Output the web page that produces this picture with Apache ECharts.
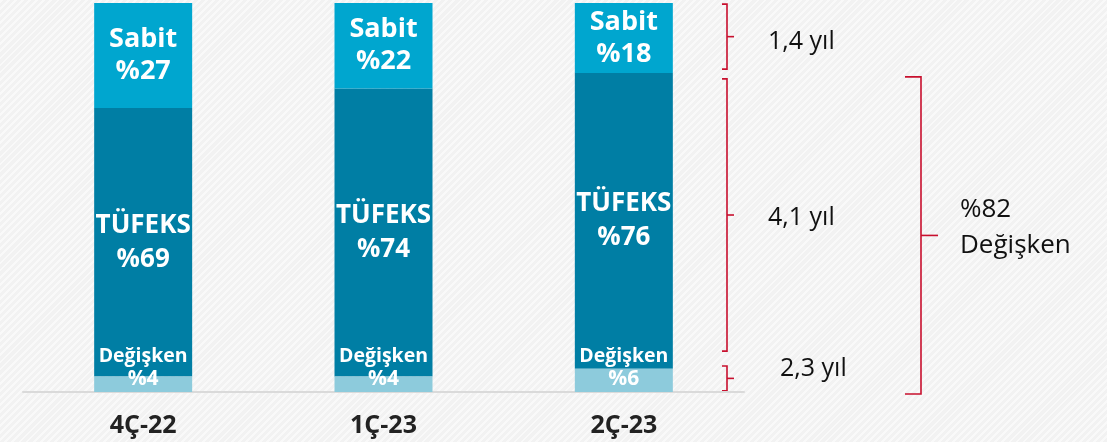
<!DOCTYPE html>
<html><head><meta charset="utf-8">
<script src="https://cdn.jsdelivr.net/npm/echarts@6/dist/echarts.min.js"></script>
<style>
html,body{margin:0;padding:0;}
#c{width:1107px;height:442px;background:repeating-linear-gradient(-45deg,#f2f2f2 0px,#f2f2f2 3px,#f9f9f9 3px,#f9f9f9 5px);}
</style>
</head><body><div id="c"></div>
<script>
const categories = ['4Ç-22', '1Ç-23', '2Ç-23'];
const degisken = [4, 4, 6];
const tufeks = [69, 74, 76];
const sabit = [27, 22, 18];
const bracketLabels = ['1,4 yıl', '4,1 yıl', '2,3 yıl'];
const bracketTop = [99.7, 80.5, 6.7];
const bracketBottom = [83, 10.5, 0.3];
const totalLabel = '%82\nDeğişken';
const totalTop = 81;
const totalBottom = -0.5;

const FONT = '"Open Sans", "Noto Sans", sans-serif';
const chart = echarts.init(document.getElementById('c'), null, {renderer: 'canvas'});

const option = {
  backgroundColor: 'transparent',
  animation: false,
  grid: {left: 23, right: 363, top: 3, bottom: 50},
  xAxis: {
    type: 'category', data: categories,
    axisLine: {show: true, lineStyle: {color: '#dadada', width: 2}},
    axisTick: {show: false},
    axisLabel: {fontFamily: FONT, fontSize: 25, fontWeight: 'bold', color: '#222', margin: 21}
  },
  yAxis: {type: 'value', min: 0, max: 100, show: false},
  series: [
    {
      name: 'Değişken', type: 'bar', stack: 'a', data: degisken, barWidth: 98, z: 4,
      itemStyle: {color: '#8dcbdc'},
      label: {show: true, position: 'insideBottom', distance: 1, color: '#fff', fontFamily: FONT,
        fontWeight: 'bold', fontSize: 19, lineHeight: 23,
        formatter: p => '{n|Değişken}\n{p|%' + p.value + '}',
        rich: {
          n: {fontFamily: FONT, fontWeight: 'bold', fontSize: 19.5, lineHeight: 23, color: '#fff'},
          p: {fontFamily: FONT, fontWeight: 'bold', fontSize: 21, lineHeight: 23, color: '#fff'}
        }}
    },
    {
      name: 'TÜFEKS', type: 'bar', stack: 'a', data: tufeks, barWidth: 98,
      itemStyle: {color: '#007ea4'},
      label: {show: true, position: 'inside', color: '#fff', fontFamily: FONT,
        fontWeight: 'bold', fontSize: 26, lineHeight: 34,
        formatter: p => 'TÜFEKS\n%' + p.value}
    },
    {
      name: 'Sabit', type: 'bar', stack: 'a', data: sabit, barWidth: 98,
      itemStyle: {color: '#00a6cf'},
      label: {show: true, position: 'inside', color: '#fff', fontFamily: FONT,
        fontWeight: 'bold', fontSize: 27, lineHeight: 32,
        formatter: p => 'Sabit\n%' + p.value}
    }
  ]
};
chart.setOption(option);

const RED = '#c8102e';
const yPix = v => chart.convertToPixel({yAxisIndex: 0}, v);
const graphics = [];
const bx = 727, labelDy = [5, 3, -10], labelX = [768, 768, 780];
for (let i = 0; i < bracketLabels.length; i++) {
  const yt = yPix(bracketTop[i]), yb = yPix(bracketBottom[i]), ym = (yt + yb) / 2;
  graphics.push({type: 'polyline', shape: {points: [[bx - 5, yt], [bx, yt], [bx, yb], [bx - 5, yb]]},
    style: {stroke: RED, lineWidth: 1.6, fill: null}});
  graphics.push({type: 'line', shape: {x1: bx, y1: ym, x2: bx + 7, y2: ym}, style: {stroke: RED, lineWidth: 1.6}});
  graphics.push({type: 'text', x: labelX[i], y: ym + labelDy[i],
    style: {text: bracketLabels[i], font: '25px ' + FONT, fill: '#111', verticalAlign: 'middle', align: 'left'}});
}
const tx = 921;
const tt = yPix(totalTop), tb = yPix(totalBottom), tm = (tt + tb) / 2;
graphics.push({type: 'polyline', shape: {points: [[tx - 16, tt], [tx, tt], [tx, tb], [tx - 16, tb]]},
  style: {stroke: RED, lineWidth: 1.6, fill: null}});
graphics.push({type: 'line', shape: {x1: tx, y1: tm, x2: tx + 17, y2: tm}, style: {stroke: RED, lineWidth: 1.6}});
graphics.push({type: 'text', x: 960, y: tm - 8,
  style: {text: totalLabel, font: '26px ' + FONT, lineHeight: 36, fill: '#111', verticalAlign: 'middle', align: 'left'}});
chart.setOption({graphic: graphics});
</script>
</body></html>
